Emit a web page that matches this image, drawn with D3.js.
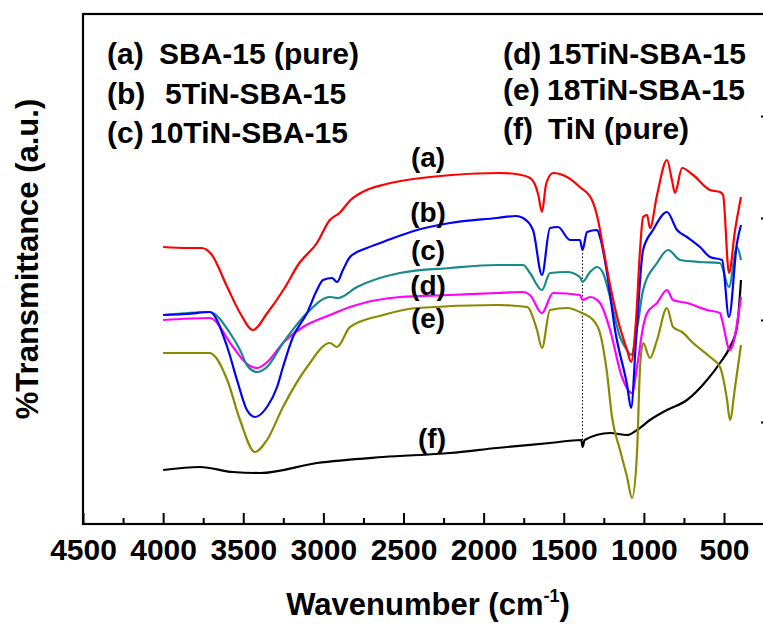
<!DOCTYPE html>
<html>
<head>
<meta charset="utf-8">
<script src="https://cdn.jsdelivr.net/npm/d3@7"></script>
<style>
  body { margin: 0; background: #fff; }
  svg text { font-family: "Liberation Sans", Arial, sans-serif; font-weight: bold; fill: #000; }
</style>
</head>
<body>
<div id="chart"></div>
<script>
// FTIR spectra, [wavenumber cm-1, transmittance a.u.]
var specA = [[4000,277],[3850,276],[3760,276],[3700,270],[3600,237],[3520,211],[3440,194],[3350,211],[3250,234],[3150,261],[3040,281],[2960,304],[2900,311],[2830,324],[2730,334],[2630,339],[2480,344],[2200,349],[1900,351],[1800,350],[1710,346],[1660,330],[1636,312],[1610,340],[1567,351],[1480,347],[1400,337],[1324,324],[1286,304],[1255,277],[1211,239],[1162,204],[1105,174],[1080,162],[1049,204],[1024,274],[1005,307],[980,309],[962,296],[918,329],[856,364],[825,344],[806,331],[762,356],[693,349],[587,334],[525,332],[506,329],[469,251],[431,294],[394,327]];
var specB = [[4000,209],[3850,210],[3710,212],[3600,177],[3539,144],[3477,114],[3427,107],[3352,117],[3289,137],[3252,157],[3190,187],[3102,211],[3040,234],[3002,244],[2946,246],[2915,242],[2878,254],[2834,267],[2728,276],[2628,282],[2416,294],[2210,301],[1917,306],[1800,308],[1754,306],[1692,294],[1636,249],[1586,296],[1536,297],[1461,284],[1399,284],[1383,274],[1355,292],[1292,294],[1274,287],[1230,251],[1180,194],[1105,139],[1080,116],[1049,184],[1005,274],[943,294],[856,312],[793,294],[731,287],[650,277],[587,267],[512,264],[469,207],[419,281],[394,299]];
var specC = [[4000,209],[3710,212],[3583,191],[3520,174],[3477,159],[3414,152],[3352,157],[3252,181],[3102,211],[2959,227],[2909,226],[2790,237],[2522,251],[2210,256],[1917,259],[1754,259],[1711,251],[1636,234],[1586,251],[1480,252],[1399,247],[1383,242],[1336,252],[1292,257],[1255,251],[1211,227],[1149,187],[1105,174],[1080,169],[1037,201],[1005,234],[918,261],[849,274],[774,264],[650,262],[525,261],[469,237],[419,277],[394,264]];
var specD = [[4000,204],[3710,206],[3564,177],[3490,162],[3414,156],[3350,162],[3252,181],[3127,197],[2959,209],[2834,217],[2522,227],[2210,229],[1917,231],[1754,232],[1711,229],[1636,211],[1567,231],[1399,229],[1383,224],[1336,227],[1274,221],[1211,194],[1137,147],[1074,131],[1043,157],[1005,197],[980,211],[918,221],[856,234],[818,224],[731,221],[606,214],[525,211],[512,204],[463,174],[394,227]];
var specE = [[4000,171],[3710,171],[3600,144],[3520,104],[3427,72],[3352,84],[3252,117],[3102,157],[2959,181],[2915,177],[2834,197],[2628,209],[2416,216],[1917,219],[1729,217],[1667,194],[1636,176],[1586,214],[1480,216],[1386,211],[1317,204],[1274,191],[1230,151],[1199,107],[1149,74],[1105,47],[1074,26],[1043,71],[1024,157],[1005,181],[962,166],[918,184],[856,216],[818,197],[762,192],[693,181],[587,167],[525,157],[481,124],[463,104],[431,137],[394,179]];
var specF = [[4000,54],[3770,57],[3564,52],[3395,51],[3040,61],[2628,67],[2210,71],[1917,76],[1586,81],[1390,84],[1383,77],[1370,84],[1211,91],[1105,89],[1043,94],[962,104],[856,114],[731,124],[606,144],[525,161],[463,177],[419,197],[394,244]];

var seriesData = [specA, specB, specC, specD, specE, specF];
var seriesColors = ["#ff0000", "#0000ff", "#168a8a", "#ff00ff", "#8a8a00", "#000000"];
var curveTags = ["(a)", "(b)", "(c)", "(d)", "(e)", "(f)"];
var tagPos = [[2347, 357], [2347, 302], [2347, 264], [2347, 229], [2347, 196], [2322, 76]];
var legendTags = ["(a)", "(b)", "(c)", "(d)", "(e)", "(f)"];
var legendNames = ["SBA-15 (pure)", "5TiN-SBA-15", "10TiN-SBA-15", "15TiN-SBA-15", "18TiN-SBA-15", "TiN (pure)"];
var xMajor = [4500, 4000, 3500, 3000, 2500, 2000, 1500, 1000, 500];
var xMinor = [4250, 3750, 3250, 2750, 2250, 1750, 1250, 750];
var markerLine = [[1383, 271], [1383, 84]];

var margin = {top: 14, left: 83},
    width = 683,
    height = 510;

var svg = d3.select("#chart").append("svg")
    .attr("width", 763)
    .attr("height", 624);

var g = svg.append("g")
    .attr("transform", "translate(" + margin.left + "," + margin.top + ")");

var x = d3.scaleLinear().domain([4500, 238]).range([0, width]);
var y = d3.scaleLinear().domain([0, 510]).range([height, 0]);

var line = d3.line()
    .x(function(d) { return x(d[0]); })
    .y(function(d) { return y(d[1]); })
    .curve(d3.curveMonotoneX);

// dotted marker
g.append("path")
    .attr("d", line(markerLine))
    .attr("fill", "none")
    .attr("stroke", "#000")
    .attr("stroke-width", 1)
    .attr("stroke-dasharray", "1.5,2");

// spectra, black first so the coloured ones sit on top
[5, 4, 3, 2, 1, 0].forEach(function(i) {
    g.append("path")
        .attr("d", line(seriesData[i]))
        .attr("fill", "none")
        .attr("stroke", seriesColors[i])
        .attr("stroke-width", 2.2)
        .attr("stroke-linejoin", "round");
});

// axes
var xAxis = g.append("g")
    .attr("transform", "translate(0," + height + ")")
    .call(d3.axisBottom(x).tickValues(xMajor).tickSize(-11).tickPadding(15).tickFormat(d3.format("d")));
xAxis.selectAll("text").style("font-size", "30px");
g.append("g")
    .attr("transform", "translate(0," + height + ")")
    .call(d3.axisBottom(x).tickValues(xMinor).tickSize(-6).tickFormat(""));
g.append("g")
    .attr("transform", "translate(" + width + ",0)")
    .call(d3.axisLeft(y).tickValues([102, 204, 306, 408]).tickSize(5).tickFormat(""));
g.selectAll(".domain").remove();
g.selectAll(".tick line").attr("stroke-width", 2);

g.append("rect")
    .attr("width", width)
    .attr("height", height)
    .attr("fill", "none")
    .attr("stroke", "#000")
    .attr("stroke-width", 2.2);

// curve tags
g.selectAll(".tag")
    .data(curveTags)
    .enter().append("text")
    .attr("class", "tag")
    .attr("x", function(d, i) { return x(tagPos[i][0]); })
    .attr("y", function(d, i) { return y(tagPos[i][1]); })
    .attr("text-anchor", "middle")
    .style("font-size", "28px")
    .text(function(d) { return d; });

// legend
var legX = [107, 107, 107, 503, 503, 503],
    nameX = [159, 165, 150, 548, 547, 548],
    legY = [64, 104, 143, 64, 100, 139];
legendTags.forEach(function(t, i) {
    svg.append("text").attr("x", legX[i]).attr("y", legY[i]).style("font-size", "30px").text(t);
    svg.append("text").attr("x", nameX[i]).attr("y", legY[i]).style("font-size", "30px").text(legendNames[i]);
});

// axis titles
var xt = svg.append("text")
    .attr("x", 428)
    .attr("y", 615)
    .attr("text-anchor", "middle")
    .style("font-size", "31px");
xt.append("tspan").text("Wavenumber (cm");
xt.append("tspan").attr("dy", -13).style("font-size", "18px").text("-1");
xt.append("tspan").attr("dy", 13).text(")");

svg.append("text")
    .attr("transform", "translate(38,259) rotate(-90)")
    .attr("text-anchor", "middle")
    .style("font-size", "31px")
    .text("%Transmittance (a.u.)");
</script>
</body>
</html>
